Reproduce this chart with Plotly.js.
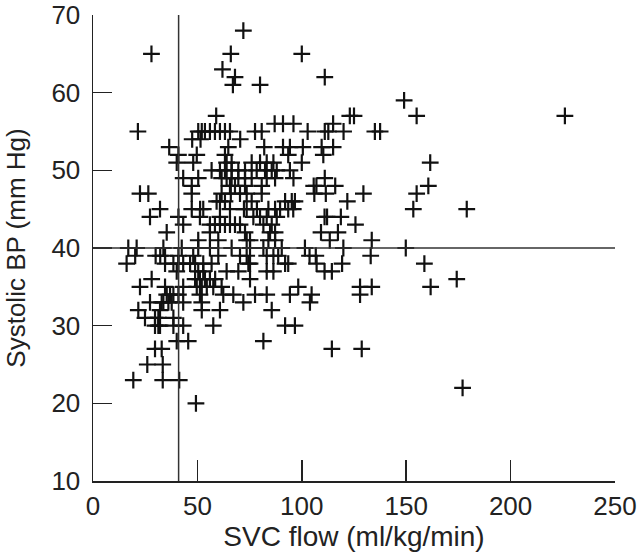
<!DOCTYPE html>
<html>
<head>
<meta charset="utf-8">
<script src="https://cdn.plot.ly/plotly-3.0.1.min.js"></script>
<style>
  html, body { margin: 0; padding: 0; background: #fff; }
  #chart { width: 640px; height: 558px; }
</style>
</head>
<body>
<div id="chart"></div>
<script>
// Systolic BP levels (mm Hg) and the SVC flows (ml/kg/min) read at each level
const bpLevels = [68, 65, 63, 62, 61, 59, 57, 56, 55, 54, 53, 52, 51, 50, 49, 48, 47, 46, 45, 44, 43, 42, 41, 40, 39, 38, 37, 36, 35, 34, 33, 32, 31, 30, 28, 27, 25, 23, 22, 20];
const flowsByLevel = [
  [72],
  [28, 66, 100],
  [62],
  [68, 111],
  [67, 80],
  [149],
  [59, 123, 125, 155, 226],
  [87, 91, 96, 115],
  [21.5, 50.4, 52.1, 53.6, 56, 58.4, 60.8, 63.2, 65.6, 77.6, 80.8, 102.8, 111, 112.7, 120, 135, 137.5],
  [47.5, 51.5, 70.5],
  [36.5, 64.8, 82, 91, 94.3, 100.5, 109.5, 115],
  [40.9, 49.7, 63.2, 93.5, 110.3],
  [40.1, 48, 64, 66.4, 76, 80, 83.2, 86.4, 100, 161.5],
  [56.8, 60.8, 63.2, 66.4, 69.6, 72.8, 78.4, 82.4, 85.6, 88, 94.3],
  [43.2, 50.4, 61.6, 64, 66.4, 69.6, 72.8, 76, 83.2, 87.2, 96, 111],
  [47.3, 65.6, 68, 72.8, 80.8, 105.7, 107, 116, 160.6],
  [22.5, 26.5, 47.3, 61.6, 66, 70.4, 73.6, 80.8, 106, 111.5, 129.5, 155],
  [59.2, 60.8, 63.2, 76, 92, 95.2, 96.7, 121.8],
  [32.1, 47.3, 51.3, 52.8, 65.6, 72.3, 73.6, 78.5, 84, 87.2, 89.6, 93.5, 95.9, 153.4, 179],
  [27.3, 40.9, 51.2, 60.8, 76.8, 80, 83.2, 88, 110.9, 112.1, 118.7],
  [43.2, 56, 58.4, 60.8, 63.2, 65.6, 68, 70.4, 81.6, 85.6, 125.7],
  [35.3, 56, 72.8, 84.8, 87.2, 109.2, 117.3],
  [50.4, 60, 73.6, 75.2, 84, 87.2, 113.4, 133.5],
  [16.9, 20.9, 33.7, 42.5, 50.4, 56, 66.4, 75.2, 81.6, 90.4, 101.5, 119.9, 149.8],
  [20.2, 30, 32.2, 34.5, 40.9, 48, 60, 70.4, 73.6, 83.2, 86.4, 88.7, 103.7, 106.7, 133],
  [16.1, 34.5, 38.5, 40.9, 43.2, 46.5, 48.9, 52.8, 56.8, 74.4, 75.2, 92, 93.5, 107.1, 119.3, 158.7],
  [40.1, 50.4, 52.8, 64, 69.6, 83.2, 86.4, 110.9, 114.4],
  [28.1, 48.9, 51.2, 53.6, 56, 58.5, 75.2, 174.2],
  [22.5, 34.5, 43.2, 49.7, 52.1, 54.5, 57.6, 61.6, 98.3, 127.9, 133.5, 161.7],
  [35.3, 36.9, 38.5, 40.9, 51.2, 62.4, 67.2, 77.6, 83.2, 94.3, 104.7, 127.9],
  [27.3, 32.9, 33.7, 36.1, 37.7, 43.2, 52.1, 72, 103.9],
  [21.7, 32.1, 52.1, 60.8, 85.6],
  [24.9, 29.7, 31.3, 38.5],
  [29.7, 31.3, 32.1, 38.5, 43.2, 57.6, 92, 96.7],
  [40.1, 45.6, 81.6],
  [29.7, 32.9, 114.4, 128.7],
  [26, 33.4],
  [19.3, 33.4, 41.3],
  [177],
  [49.3]
];

// Cut-off lines
const flowCutoff = 41;
const bpCutoff = 40;

const xTicks = [0, 50, 100, 150, 200, 250];
const yTicks = [10, 20, 30, 40, 50, 60, 70];

// Flatten into point lists
const svcFlow = [];
const systolicBP = [];
bpLevels.forEach((bp, i) => {
  flowsByLevel[i].forEach(f => {
    svcFlow.push(f);
    systolicBP.push(bp);
  });
});

const font = "Liberation Sans, Arial, sans-serif";

const data = [{
  x: svcFlow,
  y: systolicBP,
  mode: "markers",
  type: "scatter",
  marker: {
    symbol: "cross-thin-open",
    size: 12,
    color: "#111",
    line: { color: "#111", width: 2.2 }
  },
  hoverinfo: "x+y"
}];

const layout = {
  width: 640,
  height: 558,
  margin: { l: 93, r: 25, t: 15, b: 77 },
  paper_bgcolor: "#fff",
  plot_bgcolor: "#fff",
  showlegend: false,
  font: { family: font, size: 26, color: "#222" },
  xaxis: {
    range: [0, 250],
    tickvals: xTicks,
    ticks: "inside",
    ticklen: 21,
    tickwidth: 1.5,
    tickcolor: "#222",
    showline: true,
    linecolor: "#222",
    linewidth: 1.5,
    showgrid: false,
    zeroline: false,
    ticklabelstandoff: 1,
    ticklabeloverflow: "allow",
    title: { text: "SVC flow (ml/kg/min)", font: { size: 28 }, standoff: 5 }
  },
  yaxis: {
    range: [10, 70.001],
    tickvals: yTicks,
    ticks: "inside",
    ticklen: 19,
    tickwidth: 1.5,
    tickcolor: "#222",
    showline: true,
    linecolor: "#222",
    linewidth: 1.5,
    showgrid: false,
    zeroline: false,
    ticklabelstandoff: 6,
    ticklabeloverflow: "allow",
    title: { text: "Systolic BP (mm Hg)", font: { size: 26 }, standoff: 18 }
  },
  shapes: [
    {
      type: "line", xref: "x", yref: "y",
      x0: flowCutoff, x1: flowCutoff, y0: 10, y1: 70,
      line: { color: "#333", width: 1.5 }
    },
    {
      type: "line", xref: "x", yref: "y",
      x0: 0, x1: 250, y0: bpCutoff, y1: bpCutoff,
      line: { color: "#333", width: 1.5 }
    }
  ]
};

Plotly.newPlot("chart", data, layout, { displayModeBar: false, staticPlot: true });
</script>
</body>
</html>
